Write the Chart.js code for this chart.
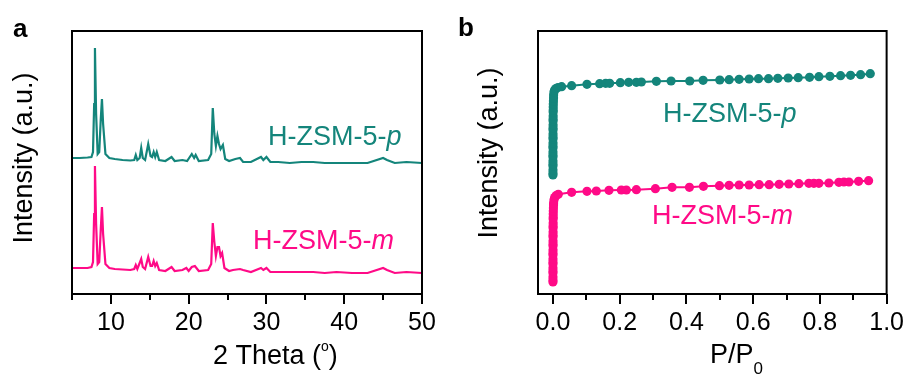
<!DOCTYPE html>
<html>
<head>
<meta charset="utf-8">
<script src="https://cdn.jsdelivr.net/npm/chart.js@4.4.1/dist/chart.umd.min.js"></script>
<style>
  html, body { margin: 0; padding: 0; background: #fff; }
  #wrap { position: relative; width: 908px; height: 376px; overflow: hidden; }
  canvas { position: absolute; top: 0; }
  #chartA { left: 0; }
  #chartB { left: 454px; }
</style>
</head>
<body>
<div id="wrap">
  <canvas id="chartA" width="454" height="376"></canvas>
  <canvas id="chartB" width="454" height="376"></canvas>
</div>
<script>
"use strict";

const teal = "#14857b";
const pink = "#ff0a87";
const family = "'Liberation Sans', Arial, Helvetica, sans-serif";

// panel a - XRD, 2 theta (deg) vs intensity (a.u.)
const thetaP = [5, 6, 7, 7.5, 7.7, 7.85, 7.95, 8.1, 8.3, 8.5, 8.7, 8.85, 9.0, 9.3, 9.8, 10.5, 11.5, 12.5, 13.0, 13.2,
  13.4, 13.7, 13.9, 14.1, 14.4, 14.8, 15.1, 15.3, 15.5, 15.7, 15.9, 16.2, 17.0, 17.8, 18.2, 19.2, 19.8, 20.4, 20.7, 20.9,
  21.3, 22.5, 22.9, 23.1, 23.3, 23.5, 23.7, 23.9, 24.1, 24.4, 24.7, 25.2, 26.0, 26.6, 27.0, 28.0, 29.3, 29.6, 30.0, 30.5,
  31.5, 33, 34.5, 36, 37.5, 39, 41, 43, 45.0, 45.5, 46.5, 48, 50];
const intensityP = [136, 136, 136.5, 137, 142, 190, 246, 180, 140, 142, 175, 195, 170, 140, 136, 135, 134, 133.5, 134, 139,
  134, 136, 146, 136, 134, 150, 138, 137, 142, 137, 142, 134, 133, 137, 133, 134, 133, 140, 136, 139,
  133, 134, 140, 186, 160, 148, 158, 150, 145, 149, 135, 133, 135, 136, 132, 132, 137, 134, 137, 132,
  132, 131, 132, 132, 131, 131, 131, 131, 136, 134, 131, 132, 131];

const thetaM = [5, 6, 7, 7.5, 7.7, 7.85, 7.95, 8.1, 8.3, 8.5, 8.7, 8.85, 9.0, 9.3, 9.8, 10.5, 11.5, 12.5, 13.0, 13.2,
  13.4, 13.7, 13.9, 14.1, 14.4, 14.8, 15.1, 15.3, 15.5, 15.7, 15.9, 16.2, 17.0, 17.8, 18.2, 19.2, 19.7, 20.0, 20.4, 20.8,
  21.3, 22.5, 22.9, 23.1, 23.3, 23.5, 23.7, 23.9, 24.1, 24.3, 24.6, 25.2, 25.7, 26.6, 27.0, 28.0, 29.3, 29.6, 30.0, 30.5,
  31.5, 33, 34.5, 36, 37.5, 39, 41, 43, 45.0, 45.5, 46.5, 48, 50];
const intensityM = [26, 26, 26, 27, 32, 80, 128, 70, 30, 32, 65, 87, 60, 30, 26, 25, 24.5, 24, 25, 29,
  25, 31, 35, 27, 25, 37, 28, 28, 33, 28, 31, 24, 23, 27, 23, 24, 26, 23, 27, 28,
  23, 24, 30, 71, 52, 38, 47, 47, 38, 41, 26, 23, 24, 25, 24, 22, 26, 24, 26, 22,
  22, 22, 22, 22, 21, 22, 21, 21, 26, 24, 21, 22, 21];

// panel b - isotherms, P/P0 vs amount (a.u.)
const pressureP = [0.00001, 0.00002, 0.00003, 0.00004, 0.00005, 0.00006, 0.00008, 0.0001, 0.00012, 0.00014,
  0.00016, 0.00018, 0.0002, 0.00023, 0.00026, 0.0003, 0.00034, 0.00038, 0.00043, 0.0005,
  0.00058, 0.00067, 0.00078, 0.0009, 0.0011, 0.0014, 0.0017,
  0.002, 0.003, 0.005, 0.009, 0.015, 0.026, 0.056, 0.102, 0.140,
  0.158, 0.170, 0.202, 0.227, 0.250, 0.265, 0.310, 0.354, 0.410, 0.450, 0.500, 0.528, 0.558, 0.588, 0.616,
  0.646, 0.674, 0.705, 0.735, 0.769, 0.797, 0.830, 0.862, 0.892, 0.922, 0.951];
const uptakeP = [119, 121, 124, 128, 130, 133, 137, 139, 142, 146,
  148, 151, 155, 157, 160, 164, 166, 169, 173, 175,
  178, 182, 184, 187, 190, 193, 196,
  199, 202, 204, 205.5, 206.5, 207.3, 208.3, 209.7, 210.3,
  210.7, 210.7, 211.3, 211.7, 211.7, 212, 212.7, 213, 213, 213.7, 214, 214.3, 214.7, 215, 215.3,
  215.3, 215.7, 216, 216.3, 216.7, 217.3, 217.7, 218.3, 218.7, 219.3, 220.3];

const pressureM = [0.00001, 0.00002, 0.00003, 0.00004, 0.00005, 0.00006, 0.00008, 0.0001, 0.00012, 0.00014,
  0.00016, 0.00018, 0.0002, 0.00023, 0.00026, 0.0003, 0.00034, 0.00038, 0.00043, 0.0005,
  0.00058, 0.00067, 0.00078, 0.0009, 0.0011, 0.0014, 0.0017,
  0.002, 0.003, 0.005, 0.009, 0.016, 0.056, 0.102, 0.130, 0.168,
  0.205, 0.220, 0.250, 0.307, 0.357, 0.409, 0.451, 0.499, 0.528, 0.558, 0.588, 0.618, 0.648, 0.678, 0.707,
  0.737, 0.767, 0.782, 0.797, 0.827, 0.857, 0.872, 0.887, 0.916, 0.946];
const uptakeM = [12, 14, 17, 21, 23, 26, 30, 32, 35, 39,
  41, 44, 48, 50, 53, 57, 59, 62, 66, 68,
  71, 75, 77, 80, 83, 86, 89,
  91, 94, 96.5, 98.3, 99.7, 101.7, 102.7, 103, 103.7,
  104, 104, 104.3, 105.3, 106.7, 106.7, 107.7, 108.3, 108.7, 109, 109, 109.3, 109.3, 109.7, 110,
  110.3, 110.7, 110.7, 110.7, 111, 111.7, 112, 112, 112.7, 113.3];

// tick labels
const majorTicksA = [10, 20, 30, 40, 50];
const minorTicksA = [5, 15, 25, 35, 45];
const majorTicksB = [0.0, 0.2, 0.4, 0.6, 0.8, 1.0];
const minorTicksB = [0.1, 0.3, 0.5, 0.7, 0.9];

function pts(xs, ys) {
  return xs.map((v, i) => ({ x: v, y: ys[i] }));
}

// texts for each canvas (canvas pixels)
const decor = {
  chartA: {
    minor: minorTicksA,
    texts: [
      { x: 13, y: 37, size: 26, color: "#000", parts: [{ t: "a", bold: true }] },
      { x: 32, y: 158, size: 27, color: "#000", rotate: true, parts: [{ t: "Intensity (a.u.)" }] },
      { x: 213, y: 364, size: 27, color: "#000", parts: [{ t: "2 Theta (" }, { t: "o", small: 0.5, dy: -13 }, { t: ")" }] },
      { x: 268, y: 145, size: 27, color: teal, parts: [{ t: "H-ZSM-5-" }, { t: "p", italic: true }] },
      { x: 253, y: 249, size: 27, color: pink, parts: [{ t: "H-ZSM-5-" }, { t: "m", italic: true }] }
    ]
  },
  chartB: {
    minor: minorTicksB,
    texts: [
      { x: 4, y: 36, size: 26, color: "#000", parts: [{ t: "b", bold: true }] },
      { x: 43, y: 153, size: 27, color: "#000", rotate: true, parts: [{ t: "Intensity (a.u.)" }] },
      { x: 256, y: 363, size: 27, color: "#000", parts: [{ t: "P/P" }, { t: "0", small: 0.62, dy: 11 }] },
      { x: 209, y: 122, size: 27, color: teal, parts: [{ t: "H-ZSM-5-" }, { t: "p", italic: true }] },
      { x: 198, y: 224, size: 27, color: pink, parts: [{ t: "H-ZSM-5-" }, { t: "m", italic: true }] }
    ]
  }
};

function drawParts(ctx, item) {
  let width = 0;
  item.parts.forEach(p => {
    const fs = p.small ? Math.round(item.size * p.small) : item.size;
    ctx.font = (p.italic ? "italic " : "") + (p.bold ? "bold " : "") + fs + "px " + family;
    width += ctx.measureText(p.t).width;
  });
  ctx.save();
  ctx.translate(item.x, item.y);
  if (item.rotate) ctx.rotate(-Math.PI / 2);
  let cx = item.rotate ? -width / 2 : 0;
  ctx.fillStyle = item.color;
  ctx.textBaseline = "alphabetic";
  ctx.textAlign = "left";
  item.parts.forEach(p => {
    const fs = p.small ? Math.round(item.size * p.small) : item.size;
    ctx.font = (p.italic ? "italic " : "") + (p.bold ? "bold " : "") + fs + "px " + family;
    ctx.fillText(p.t, cx, p.dy || 0);
    cx += ctx.measureText(p.t).width;
  });
  ctx.restore();
}

const panelDecor = {
  id: "panelDecor",
  afterDatasetsDraw(chart) {
    const d = decor[chart.canvas.id];
    const ctx = chart.ctx;
    const a = chart.chartArea;
    const x = chart.scales.x;
    ctx.save();
    ctx.strokeStyle = "#000";
    ctx.lineWidth = 2;
    ctx.strokeRect(a.left, a.top, a.right - a.left, a.bottom - a.top);
    // short minor ticks
    d.minor.forEach(v => {
      const px = Math.round(x.getPixelForValue(v));
      ctx.beginPath();
      ctx.moveTo(px, a.bottom);
      ctx.lineTo(px, a.bottom + 6);
      ctx.stroke();
    });
    ctx.restore();
    d.texts.forEach(t => drawParts(ctx, t));
  }
};

function xAxis(min, max, majors, fmt) {
  return {
    type: "linear",
    min: min,
    max: max,
    afterBuildTicks: s => { s.ticks = majors.map(v => ({ value: v })); },
    afterFit: s => { s.height = 82; },
    ticks: {
      color: "#000",
      padding: 4,
      maxRotation: 0,
      autoSkip: false,
      font: { size: 25, family: family },
      callback: v => fmt(v)
    },
    grid: { display: true, drawOnChartArea: false, drawTicks: true, tickLength: 10, color: "#000", lineWidth: 2 },
    border: { display: false }
  };
}

function yAxis(width) {
  return {
    min: 0,
    max: 263,
    ticks: { display: false },
    grid: { display: false },
    border: { display: false },
    afterFit: s => { s.width = width; }
  };
}

Chart.defaults.font.family = family;

var chartA = new Chart(document.getElementById("chartA"), {
  type: "line",
  data: {
    datasets: [{
      data: pts(thetaM, intensityM),
      borderColor: pink,
      borderWidth: 2.2,
      pointRadius: 0,
      tension: 0
    }, {
      data: pts(thetaP, intensityP),
      borderColor: teal,
      borderWidth: 2.2,
      pointRadius: 0,
      tension: 0
    }]
  },
  options: {
    responsive: false,
    animation: false,
    layout: { padding: { top: 31, right: 32, left: 0, bottom: 0 } },
    plugins: { legend: { display: false }, tooltip: { enabled: false } },
    scales: {
      x: xAxis(5, 50, majorTicksA, v => String(v)),
      y: yAxis(72)
    }
  },
  plugins: [panelDecor]
});

var chartB = new Chart(document.getElementById("chartB"), {
  type: "line",
  data: {
    datasets: [{
      data: pts(pressureM, uptakeM),
      borderColor: pink,
      backgroundColor: pink,
      borderWidth: 2,
      pointRadius: 4.6,
      pointBorderWidth: 0,
      pointBackgroundColor: pink,
      tension: 0
    }, {
      data: pts(pressureP, uptakeP),
      borderColor: teal,
      backgroundColor: teal,
      borderWidth: 2,
      pointRadius: 4.6,
      pointBorderWidth: 0,
      pointBackgroundColor: teal,
      tension: 0
    }]
  },
  options: {
    responsive: false,
    animation: false,
    layout: { padding: { top: 31, right: 20, left: 0, bottom: 0 } },
    plugins: { legend: { display: false }, tooltip: { enabled: false } },
    scales: {
      x: xAxis(-0.0448, 1.0, majorTicksB, v => v.toFixed(1)),
      y: yAxis(84)
    }
  },
  plugins: [panelDecor]
});
</script>
</body>
</html>
